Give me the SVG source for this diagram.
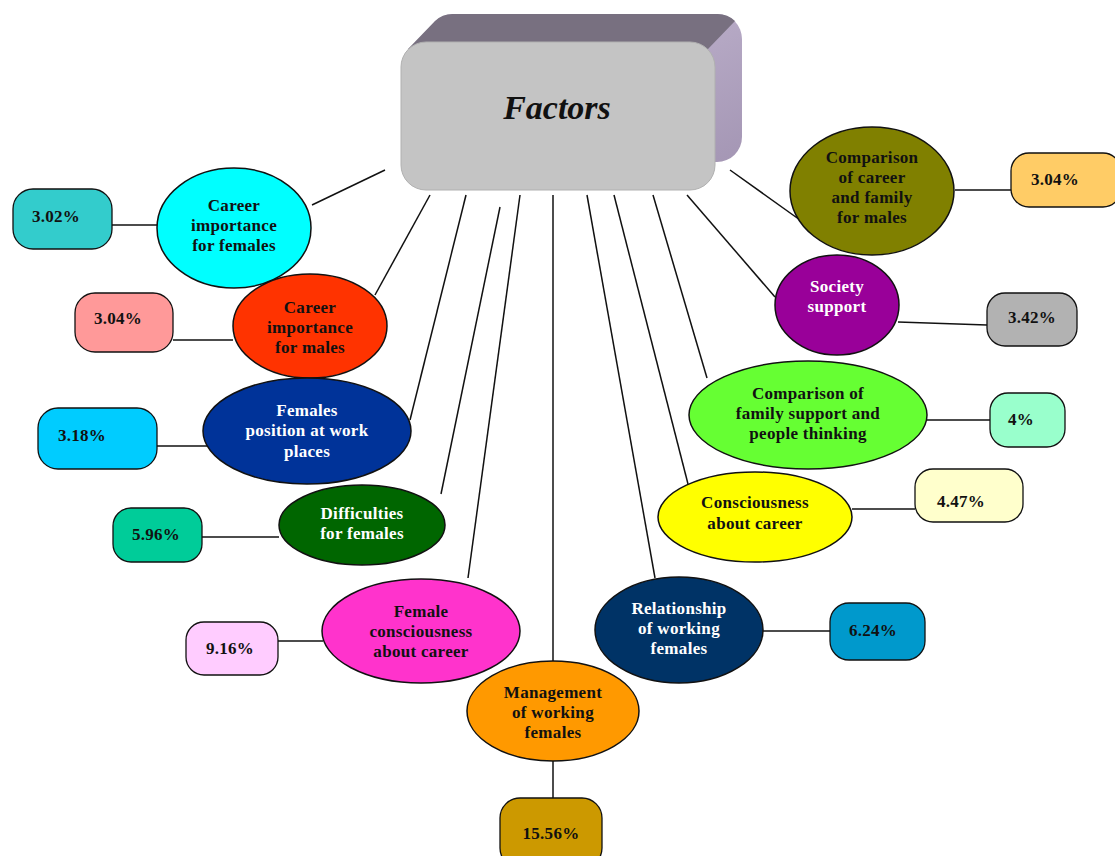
<svg xmlns="http://www.w3.org/2000/svg" width="1115" height="856" viewBox="0 0 1115 856">
<style>
.t{font-family:"Liberation Serif","Times New Roman",serif;font-weight:bold;font-size:17px;letter-spacing:0.3px;text-anchor:middle;fill:#111}
.w{fill:#fff}
.e{stroke:#111;stroke-width:1.5}
.b{stroke:#111;stroke-width:1.3}
.c line{stroke:#111;stroke-width:1.5}
</style>
<defs>
<linearGradient id="side" x1="0" y1="0" x2="1" y2="1">
<stop offset="0" stop-color="#c8bcd6"/>
<stop offset="1" stop-color="#a496b4"/>
</linearGradient>
</defs>
<rect width="1115" height="856" fill="#fff"/>
<g class="c">
<line x1="312" y1="205" x2="385" y2="170"/>
<line x1="375" y1="295" x2="430" y2="195"/>
<line x1="410" y1="420" x2="466" y2="195"/>
<line x1="441" y1="494" x2="500" y2="207"/>
<line x1="468" y1="578" x2="520" y2="195"/>
<line x1="553" y1="661" x2="553" y2="195"/>
<line x1="655" y1="578" x2="587" y2="195"/>
<line x1="688" y1="484" x2="614" y2="195"/>
<line x1="707" y1="378" x2="653" y2="195"/>
<line x1="775" y1="297" x2="687" y2="195"/>
<line x1="800" y1="220" x2="730" y2="170"/>
<line x1="112" y1="225" x2="157" y2="225"/>
<line x1="173" y1="340" x2="233" y2="340"/>
<line x1="157" y1="446" x2="212" y2="446"/>
<line x1="202" y1="537" x2="279" y2="537"/>
<line x1="278" y1="641" x2="323" y2="641"/>
<line x1="553" y1="761" x2="553" y2="798"/>
<line x1="763" y1="631" x2="830" y2="631"/>
<line x1="852" y1="509" x2="915" y2="509"/>
<line x1="927" y1="420" x2="990" y2="420"/>
<line x1="898" y1="322" x2="987" y2="325"/>
<line x1="955" y1="190" x2="1011" y2="190"/>
</g>
<g id="factors">
<rect x="428" y="14" width="314" height="148" rx="25" fill="url(#side)"/>
<path d="M408,49 L435,21 A25,25 0 0 1 453,14 L717,14 A25,25 0 0 1 735,21 L708,49 Z" fill="#787080"/>
<rect x="401" y="42" width="314" height="148" rx="25" fill="#c4c4c4" stroke="#b0b0b0" stroke-width="1"/>
<text x="557" y="119" style="font-family:'Liberation Serif','Times New Roman',serif;font-weight:bold;font-style:italic;font-size:34px;text-anchor:middle;fill:#111">Factors</text>
</g>
<g id="n1">
<ellipse class="e" cx="234" cy="228" rx="77" ry="60" fill="#00ffff"/>
<text class="t" x="234" y="211">Career</text>
<text class="t" x="234" y="231">importance</text>
<text class="t" x="234" y="251">for females</text>
</g>
<g id="p1">
<rect class="b" x="13" y="189" width="99" height="60" rx="20" fill="#33cccc"/>
<text class="t" x="56" y="222">3.02%</text>
</g>
<g id="n2">
<ellipse class="e" cx="310" cy="326" rx="77" ry="52" fill="#ff3300"/>
<text class="t" x="310" y="313">Career</text>
<text class="t" x="310" y="333">importance</text>
<text class="t" x="310" y="353">for males</text>
</g>
<g id="p2">
<rect class="b" x="75" y="293" width="98" height="59" rx="20" fill="#ff9999"/>
<text class="t" x="118" y="324">3.04%</text>
</g>
<g id="n3">
<ellipse class="e" cx="307" cy="431" rx="104" ry="53" fill="#003399"/>
<text class="t w" x="307" y="416">Females</text>
<text class="t w" x="307" y="436">position at work</text>
<text class="t w" x="307" y="457">places</text>
</g>
<g id="p3">
<rect class="b" x="38" y="408" width="119" height="61" rx="20" fill="#00ccff"/>
<text class="t" x="82" y="441">3.18%</text>
</g>
<g id="n4">
<ellipse class="e" cx="362" cy="525" rx="83" ry="40" fill="#006600"/>
<text class="t w" x="362" y="519">Difficulties</text>
<text class="t w" x="362" y="539">for females</text>
</g>
<g id="p4">
<rect class="b" x="113" y="508" width="89" height="54" rx="18" fill="#00cc99"/>
<text class="t" x="156" y="540">5.96%</text>
</g>
<g id="n5">
<ellipse class="e" cx="421" cy="631" rx="99" ry="52" fill="#ff33cc"/>
<text class="t" x="421" y="617">Female</text>
<text class="t" x="421" y="637">consciousness</text>
<text class="t" x="421" y="657">about career</text>
</g>
<g id="p5">
<rect class="b" x="186" y="622" width="92" height="53" rx="18" fill="#ffccff"/>
<text class="t" x="230" y="654">9.16%</text>
</g>
<g id="n6">
<ellipse class="e" cx="553" cy="711" rx="86" ry="50" fill="#ff9900"/>
<text class="t" x="553" y="698">Management</text>
<text class="t" x="553" y="718">of working</text>
<text class="t" x="553" y="738">females</text>
</g>
<g id="p6">
<rect class="b" x="500" y="798" width="102" height="70" rx="20" fill="#cc9900"/>
<text class="t" x="551" y="839">15.56%</text>
</g>
<g id="n7">
<ellipse class="e" cx="679" cy="630" rx="84" ry="53" fill="#003366"/>
<text class="t w" x="679" y="614">Relationship</text>
<text class="t w" x="679" y="634">of working</text>
<text class="t w" x="679" y="654">females</text>
</g>
<g id="p7">
<rect class="b" x="830" y="603" width="95" height="57" rx="19" fill="#0099cc"/>
<text class="t" x="873" y="636">6.24%</text>
</g>
<g id="n8">
<ellipse class="e" cx="755" cy="517" rx="97" ry="45" fill="#ffff00"/>
<text class="t" x="755" y="508">Consciousness</text>
<text class="t" x="755" y="529">about career</text>
</g>
<g id="p8">
<rect class="b" x="915" y="469" width="108" height="53" rx="18" fill="#ffffcc"/>
<text class="t" x="961" y="507">4.47%</text>
</g>
<g id="n9">
<ellipse class="e" cx="808" cy="415" rx="119" ry="54" fill="#66ff33"/>
<text class="t" x="808" y="399">Comparison of</text>
<text class="t" x="808" y="419">family support and</text>
<text class="t" x="808" y="439">people thinking</text>
</g>
<g id="p9">
<rect class="b" x="990" y="393" width="75" height="54" rx="18" fill="#99ffcc"/>
<text class="t" x="1021" y="425">4%</text>
</g>
<g id="n10">
<ellipse class="e" cx="837" cy="305" rx="62" ry="50" fill="#990099"/>
<text class="t w" x="837" y="292">Society</text>
<text class="t w" x="837" y="312">support</text>
</g>
<g id="p10">
<rect class="b" x="987" y="293" width="90" height="53" rx="18" fill="#b2b2b2"/>
<text class="t" x="1032" y="323">3.42%</text>
</g>
<g id="n11">
<ellipse class="e" cx="872" cy="191" rx="82" ry="64" fill="#808000"/>
<text class="t" x="872" y="163">Comparison</text>
<text class="t" x="872" y="183">of career</text>
<text class="t" x="872" y="203">and family</text>
<text class="t" x="872" y="223">for males</text>
</g>
<g id="p11">
<rect class="b" x="1011" y="153" width="110" height="54" rx="18" fill="#ffcc66"/>
<text class="t" x="1055" y="185">3.04%</text>
</g>
</svg>
